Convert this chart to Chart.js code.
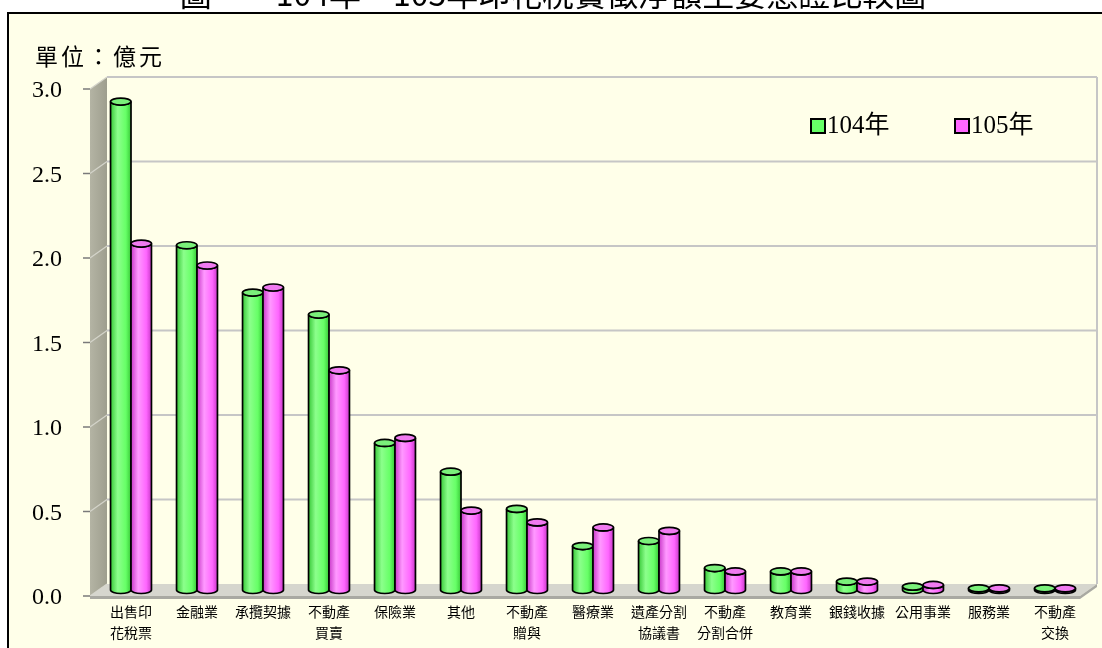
<!DOCTYPE html>
<html>
<head>
<meta charset="utf-8">
<script src="https://cdn.jsdelivr.net/npm/chart.js@4"></script>
<style>
html, body { margin: 0; padding: 0; background: #fff; }
#wrap { width: 1102px; height: 648px; }
</style>
</head>
<body>
<div id="wrap"><canvas id="myChart" width="1102" height="648"></canvas></div>
<script>
// Data (unit: 億元)
var categories = [['出售印', '花稅票'], '金融業', '承攬契據', ['不動產', '買賣'], '保險業', '其他',
    ['不動產', '贈與'], '醫療業', ['遺產分割', '協議書'], ['不動產', '分割合併'], '教育業',
    '銀錢收據', '公用事業', '服務業', ['不動產', '交換']];
var values104 = [2.89, 2.04, 1.76, 1.63, 0.87, 0.70, 0.48, 0.26, 0.29, 0.13, 0.11, 0.05, 0.02, 0.01, 0.01];
var values105 = [2.05, 1.92, 1.79, 1.30, 0.90, 0.47, 0.40, 0.37, 0.35, 0.11, 0.11, 0.05, 0.03, 0.01, 0.01];
var seriesNames = ['104年', '105年'];
var yTicks = [0, 0.5, 1.0, 1.5, 2.0, 2.5, 3.0];

var titleText = '圖一　104年、105年印花稅實徵淨額主要憑證比較圖';
var unitText = '單位：億元';

var greenFill = '#66FF66';
var pinkFill = '#FF66FF';
var shades = {
    '#66FF66': { dark: '#38C838', light: '#8CFF8C', top: '#7AF07A' },
    '#FF66FF': { dark: '#C838C8', light: '#FF99FF', top: '#F07AF0' }
};

// offsets of the fake 3D planes relative to the bar plane
var BACK_DX = 9, BACK_DY = -6;
var FRONT_DX = -8, FRONT_DY = 6;

function drawCylinder(ctx, x0, w, top, base, color) {
    var rx = w / 2, ry = 3.5, cx = x0 + rx;
    var s = shades[color];
    var grad = ctx.createLinearGradient(x0, 0, x0 + w, 0);
    grad.addColorStop(0, s.dark);
    grad.addColorStop(0.35, s.light);
    grad.addColorStop(0.75, color);
    grad.addColorStop(1, s.dark);

    ctx.beginPath();
    ctx.moveTo(x0, top);
    ctx.lineTo(x0, base);
    ctx.ellipse(cx, base, rx, ry, 0, Math.PI, 0, true);
    ctx.lineTo(x0 + w, top);
    ctx.ellipse(cx, top, rx, ry, 0, 0, Math.PI, false);
    ctx.closePath();
    ctx.fillStyle = grad;
    ctx.fill();
    ctx.lineWidth = 1.7;
    ctx.strokeStyle = '#000';
    ctx.stroke();

    ctx.beginPath();
    ctx.ellipse(cx, top, rx, ry, 0, 0, Math.PI * 2);
    ctx.fillStyle = s.top;
    ctx.fill();
    ctx.stroke();
}

var scenePlugin = {
    id: 'scene',
    beforeDraw: function(chart) {
        var ctx = chart.ctx;
        var area = chart.chartArea;
        var yScale = chart.scales.y;
        ctx.save();
        // page and frame
        ctx.fillStyle = '#fff';
        ctx.fillRect(0, 0, chart.width, chart.height);
        ctx.fillStyle = '#FFFFE9';
        ctx.fillRect(8, 13, chart.width - 8, chart.height - 13);

        // title, mostly cut off above the frame
        ctx.fillStyle = '#000';
        ctx.font = '32px "Noto Sans CJK TC"';
        ctx.textAlign = 'center';
        ctx.textBaseline = 'alphabetic';
        ctx.fillText(titleText, 553, 6);
        ctx.fillStyle = '#fff';
        ctx.fillRect(0, 11, chart.width, 2);

        ctx.strokeStyle = '#000';
        ctx.lineWidth = 2;
        ctx.beginPath();
        ctx.moveTo(8, chart.height);
        ctx.lineTo(8, 13);
        ctx.lineTo(chart.width, 13);
        ctx.stroke();

        // unit label
        ctx.fillStyle = '#000';
        ctx.font = '23px "Noto Sans CJK TC"';
        ctx.letterSpacing = '3px';
        ctx.textAlign = 'left';
        ctx.textBaseline = 'middle';
        ctx.fillText(unitText, 35, 56);
        ctx.letterSpacing = '0px';

        var L = area.left, R = area.right, T = area.top, B = area.bottom;

        // back wall grid lines
        ctx.strokeStyle = '#C6C6C6';
        ctx.lineWidth = 2;
        yTicks.forEach(function(v) {
            if (v === 0) return;
            var y = yScale.getPixelForValue(v) + BACK_DY;
            ctx.beginPath();
            ctx.moveTo(L + BACK_DX, y);
            ctx.lineTo(R + BACK_DX, y);
            ctx.stroke();
        });
        ctx.beginPath();
        ctx.moveTo(R + BACK_DX, T + BACK_DY);
        ctx.lineTo(R + BACK_DX, B + BACK_DY);
        ctx.stroke();

        // left side wall
        var wg = ctx.createLinearGradient(L + FRONT_DX, 0, L + BACK_DX, 0);
        wg.addColorStop(0, '#B4B4A4');
        wg.addColorStop(1, '#9E9E8E');
        ctx.fillStyle = wg;
        ctx.beginPath();
        ctx.moveTo(L + FRONT_DX, T + FRONT_DY);
        ctx.lineTo(L + BACK_DX, T + BACK_DY);
        ctx.lineTo(L + BACK_DX, B + BACK_DY);
        ctx.lineTo(L + FRONT_DX, B + FRONT_DY);
        ctx.closePath();
        ctx.fill();
        ctx.strokeStyle = '#D4D4CA';
        ctx.lineWidth = 1.2;
        yTicks.forEach(function(v) {
            var y = yScale.getPixelForValue(v);
            ctx.beginPath();
            ctx.moveTo(L + BACK_DX, y + BACK_DY);
            ctx.lineTo(L + FRONT_DX, y + FRONT_DY);
            ctx.stroke();
        });
        // tick marks on the front edge
        ctx.strokeStyle = '#7A7A7A';
        ctx.lineWidth = 1.5;
        yTicks.forEach(function(v) {
            var y = yScale.getPixelForValue(v) + FRONT_DY;
            ctx.beginPath();
            ctx.moveTo(L + FRONT_DX - 7, y);
            ctx.lineTo(L + FRONT_DX, y);
            ctx.stroke();
        });

        // floor
        ctx.fillStyle = '#D6D6CE';
        ctx.beginPath();
        ctx.moveTo(L + FRONT_DX, B + FRONT_DY);
        ctx.lineTo(L + BACK_DX, B + BACK_DY);
        ctx.lineTo(R + BACK_DX, B + BACK_DY);
        ctx.lineTo(R + FRONT_DX, B + FRONT_DY);
        ctx.closePath();
        ctx.fill();
        ctx.fillStyle = '#A9A9A2';
        ctx.beginPath();
        ctx.moveTo(L + FRONT_DX, B + FRONT_DY);
        ctx.lineTo(R + FRONT_DX, B + FRONT_DY);
        ctx.lineTo(R + BACK_DX, B + BACK_DY);
        ctx.lineTo(R + BACK_DX, B + BACK_DY + 3);
        ctx.lineTo(R + FRONT_DX, B + FRONT_DY + 3);
        ctx.lineTo(L + FRONT_DX, B + FRONT_DY + 3);
        ctx.closePath();
        ctx.fill();
        ctx.restore();
    },
    beforeDatasetsDraw: function(chart) {
        var ctx = chart.ctx;
        ctx.save();
        chart.data.datasets.forEach(function(ds, di) {
            var meta = chart.getDatasetMeta(di);
            meta.data.forEach(function(bar) {
                var p = bar.getProps(['x', 'y', 'base', 'width'], true);
                drawCylinder(ctx, p.x - p.width / 2, p.width, p.y, p.base, ds.backgroundColor);
            });
        });
        ctx.restore();
        return false;
    },
    afterDraw: function(chart) {
        // legend
        var ctx = chart.ctx;
        ctx.save();
        var items = [{ x: 811, color: greenFill, text: seriesNames[0] },
                     { x: 955, color: pinkFill, text: seriesNames[1] }];
        items.forEach(function(it) {
            ctx.fillStyle = it.color;
            ctx.fillRect(it.x, 119, 14, 14);
            ctx.strokeStyle = '#000';
            ctx.lineWidth = 2;
            ctx.strokeRect(it.x, 119, 14, 14);
            ctx.fillStyle = '#000';
            ctx.font = '25px "Liberation Serif", "Noto Sans CJK TC"';
            ctx.textAlign = 'left';
            ctx.textBaseline = 'middle';
            ctx.fillText(it.text, it.x + 16, 126);
        });
        ctx.restore();
    }
};

var ctx = document.getElementById('myChart').getContext('2d');
var myChart = new Chart(ctx, {
    type: 'bar',
    data: {
        labels: categories,
        datasets: [{
            label: seriesNames[0],
            data: values104,
            backgroundColor: greenFill
        }, {
            label: seriesNames[1],
            data: values105,
            backgroundColor: pinkFill
        }]
    },
    options: {
        responsive: false,
        animation: false,
        layout: { padding: { top: 83, right: 14, left: 0, bottom: 0 } },
        categoryPercentage: 0.62,
        barPercentage: 1.0,
        plugins: {
            legend: { display: false },
            tooltip: { enabled: false }
        },
        scales: {
            x: {
                grid: { display: false, drawTicks: false },
                border: { display: false },
                ticks: {
                    color: '#000',
                    padding: 12,
                    maxRotation: 0,
                    autoSkip: false,
                    font: { family: '"Noto Sans CJK TC"', size: 14, lineHeight: 1.45 }
                },
                afterFit: function(scale) { scale.height = 58; }
            },
            y: {
                min: 0,
                max: 3,
                grid: { display: false, drawTicks: false },
                border: { display: false },
                ticks: {
                    stepSize: 0.5,
                    color: '#000',
                    padding: 36,
                    labelOffset: 8,
                    font: { family: '"Liberation Serif"', size: 24 },
                    callback: function(value) { return value.toFixed(1); }
                },
                afterFit: function(scale) { scale.width = 98; }
            }
        }
    },
    plugins: [scenePlugin]
});
</script>
</body>
</html>
